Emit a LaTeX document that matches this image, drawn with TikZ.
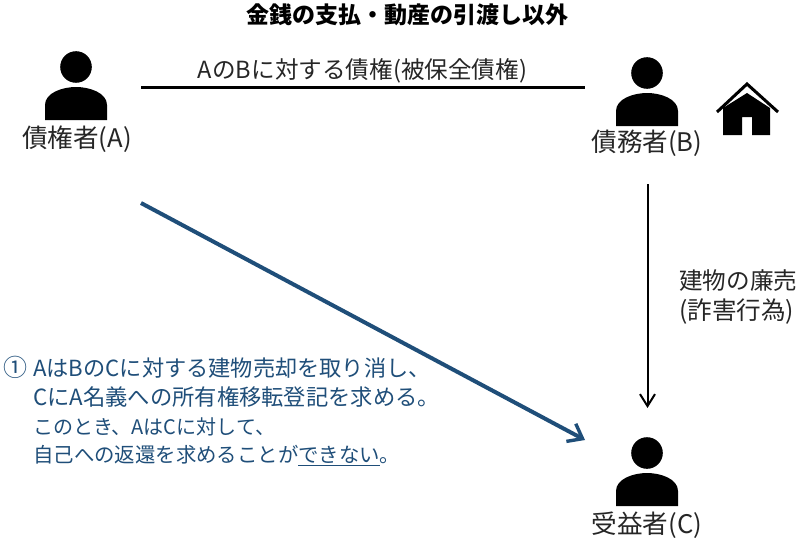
\documentclass[tikz,border=0pt]{standalone}
\usepackage{fontspec}
\setmainfont{Noto Sans CJK JP}
\usetikzlibrary{arrows.meta}
\definecolor{noteblue}{HTML}{1F4E79}
\tikzset{
    lbl/.style={inner sep=0pt, font=\fontsize{25.6}{28}\selectfont, text=black!85},
    midlbl/.style={inner sep=0pt, font=\fontsize{23.6}{30}\selectfont, text=black!85},
    barb/.style={-{Straight Barb[length=12pt,width=15pt,line width=2pt]}},
    bluebarb/.style={-{Straight Barb[length=13pt,width=20pt,line width=3.4pt]}},
}
\newcommand{\person}[2]{
    \fill (#1,#2) circle (15.8);
    \fill (#1-31,#2+53) -- (#1-31,#2+38) .. controls (#1-31,#2+26) and (#1-14,#2+20) .. (#1,#2+20)
        .. controls (#1+14,#2+20) and (#1+31,#2+26) .. (#1+31,#2+38) -- (#1+31,#2+53) -- cycle;
}
\begin{document}
\begin{tikzpicture}[x=1pt,y=-1pt]
    \useasboundingbox (0,0) rectangle (803,543);

    \node[inner sep=0pt, font=\fontsize{23}{26}\selectfont\bfseries] (title) at (407,15) {金銭の支払・動産の引渡し以外};

    \person{76}{67}
    \person{647}{73}
    \person{647}{453}

    \node[lbl] (labelA) at (77,139) {債権者(A)};
    \node[lbl] (labelB) at (647,143) {債務者(B)};
    \node[lbl] (labelC) at (647,525) {受益者(C)};

    % house
    \draw[line width=3pt] (717,112) -- (747,84) -- (778,112);
    \fill (723,135) -- (723,108) -- (747,93) -- (770,108) -- (770,135) -- (752,135) -- (752,117) -- (742,117) -- (742,135) -- cycle;

    \coordinate (debtL) at (141,87.5);
    \coordinate (debtR) at (585,87.5);
    \draw[line width=2.2pt] (debtL) -- (debtR);
    \node[midlbl] (debt) at (362.5,71) {AのBに対する債権(被保全債権)};

    \coordinate (actTop) at (647.5,184);
    \coordinate (actEnd) at (647.5,408);
    \draw[barb, line width=2pt] (actTop) -- (actEnd);
    \node[midlbl, align=left, anchor=west] (act) at (679,297) {建物の廉売\\\fontsize{24.6}{30}\selectfont(詐害行為)};

    \coordinate (claimS) at (141,203);
    \coordinate (claimE) at (585,440);
    \draw[bluebarb, line width=4pt, noteblue] (claimS) -- (claimE);

    \node[lbl, anchor=west, text=noteblue, font=\fontsize{24}{26}\selectfont] (mark) at (3,367) {①};
    \node[anchor=north west, inner sep=0pt, align=left, text=noteblue, font=\fontsize{20}{28.7}\selectfont] (note) at (33,358) {\fontsize{22.2}{28.7}\selectfont AはBのCに対する建物売却を取り消し、\\
        \fontsize{22.3}{28.7}\selectfont CにA名義への所有権移転登記を求める。\\
        \fontsize{20}{28.7}\selectfont このとき、AはCに対して、\\
        \fontsize{20.4}{28.7}\selectfont 自己への返還を求めることが\underline{できない}。};
\end{tikzpicture}
\end{document}
